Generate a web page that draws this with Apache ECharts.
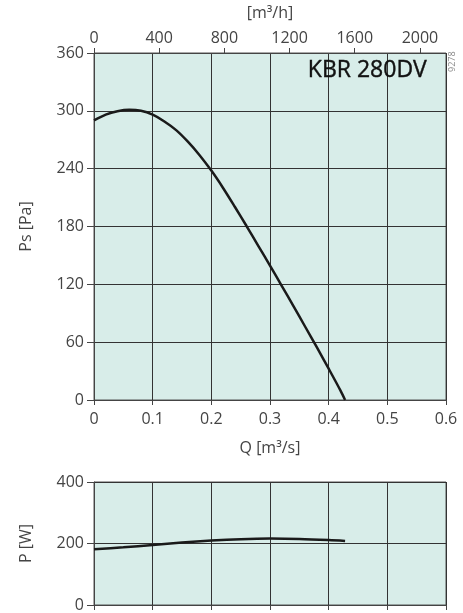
<!DOCTYPE html>
<html>
<head>
<meta charset="utf-8">
<script src="https://cdn.jsdelivr.net/npm/echarts@6/dist/echarts.min.js"></script>
<style>
  html, body { margin: 0; padding: 0; background: #fff; }
  #chart { width: 463px; height: 613px; }
</style>
</head>
<body>
<div id="chart"></div>
<script>
// Fan curve: static pressure and power input versus airflow
var flowQ = [0, 0.02, 0.04, 0.06, 0.08, 0.10, 0.12, 0.14, 0.16, 0.18, 0.20, 0.22, 0.24, 0.26, 0.28, 0.30, 0.32, 0.34, 0.36, 0.38, 0.40, 0.42, 0.428];
var pressurePs = [290, 296, 299.5, 301, 300, 296, 289, 280, 268, 254, 238, 220, 200.5, 180.5, 160, 139.5, 118.5, 97.5, 76, 54.5, 32.5, 10, 0];

var powerQ = [0, 0.05, 0.10, 0.15, 0.20, 0.25, 0.30, 0.35, 0.40, 0.428];
var powerP = [181, 187.5, 195, 203, 209.5, 214, 216, 215, 211.5, 208.5];

var flowHourTicks = [0, 400, 800, 1200, 1600, 2000];
var modelName = 'KBR 280DV';
var drawingNo = '9278';

function pairs(xs, ys) {
  return xs.map(function (x, i) { return [x, ys[i]]; });
}

var fontFam = '"Open Sans", "Noto Sans", sans-serif';
var textCol = '#444';
var gridCol = '#333';
var bg = '#d8ede9';

var chart = echarts.init(document.getElementById('chart'), null, { renderer: 'canvas' });

var labelStyle = { color: textCol, fontFamily: fontFam, fontSize: 16 };

chart.setOption({
  animation: false,
  grid: [
    { left: 94, top: 48, width: 352, height: 352, show: true, backgroundColor: bg, borderColor: '#555', borderWidth: 1 },
    { left: 94, top: 482, width: 352, height: 124, show: true, backgroundColor: bg, borderColor: '#555', borderWidth: 1 }
  ],
  xAxis: [
    {
      gridIndex: 0, type: 'value', min: 0, max: 0.6, interval: 0.1, position: 'bottom',
      name: 'Q [m³/s]', nameLocation: 'middle', nameGap: 40,
      nameTextStyle: labelStyle,
      axisLine: { show: true, lineStyle: { color: '#444', width: 1 } },
      axisTick: { show: true, length: 5, lineStyle: { color: '#444' } },
      axisLabel: Object.assign({ margin: 11, formatter: function (v) { return String(+v.toFixed(1)); } }, labelStyle),
      splitLine: { show: true, lineStyle: { color: gridCol, width: 1 } }
    },
    {
      gridIndex: 0, type: 'value', min: 0, max: 2160, position: 'top',
      name: '[m³/h]', nameLocation: 'middle', nameGap: 32,
      nameTextStyle: labelStyle,
      axisLine: { show: true, lineStyle: { color: '#444', width: 1 } },
      axisTick: { show: true, length: 5, customValues: flowHourTicks, lineStyle: { color: '#444' } },
      axisLabel: Object.assign({ margin: 7, customValues: flowHourTicks, formatter: function (v) { return String(v); } }, labelStyle),
      splitLine: { show: false }
    },
    {
      gridIndex: 1, type: 'value', min: 0, max: 0.6, interval: 0.1, position: 'bottom',
      axisLine: { show: true, lineStyle: { color: '#444', width: 1 } },
      axisTick: { show: true, length: 5, lineStyle: { color: '#444' } },
      axisLabel: { show: false },
      splitLine: { show: true, lineStyle: { color: gridCol, width: 1 } }
    }
  ],
  yAxis: [
    {
      gridIndex: 0, type: 'value', min: 0, max: 360, interval: 60,
      name: 'Ps [Pa]', nameLocation: 'middle', nameGap: 60, nameRotate: 90,
      nameTextStyle: labelStyle,
      axisLine: { show: true, lineStyle: { color: '#444', width: 1 } },
      axisTick: { show: true, length: 7, lineStyle: { color: '#444' } },
      axisLabel: Object.assign({ margin: 10 }, labelStyle),
      splitLine: { show: true, lineStyle: { color: gridCol, width: 1 } }
    },
    {
      gridIndex: 1, type: 'value', min: 0, max: 400, interval: 200,
      name: 'P [W]', nameLocation: 'middle', nameGap: 60, nameRotate: 90,
      nameTextStyle: labelStyle,
      axisLine: { show: true, lineStyle: { color: '#444', width: 1 } },
      axisTick: { show: true, length: 7, lineStyle: { color: '#444' } },
      axisLabel: Object.assign({ margin: 10 }, labelStyle),
      splitLine: { show: true, lineStyle: { color: gridCol, width: 1 } }
    }
  ],
  series: [
    {
      type: 'line', xAxisIndex: 0, yAxisIndex: 0, data: pairs(flowQ, pressurePs),
      smooth: 0.3, showSymbol: false, lineStyle: { color: '#1a1a1a', width: 2.5 }, z: 5
    },
    {
      type: 'line', xAxisIndex: 2, yAxisIndex: 1, data: pairs(powerQ, powerP),
      smooth: 0.3, showSymbol: false, lineStyle: { color: '#1a1a1a', width: 2.5 }, z: 5
    }
  ],
  graphic: [
    {
      type: 'text', right: 463 - 427, top: 59, z: 10,
      style: { text: modelName, fill: '#111', font: '23px ' + fontFam, textAlign: 'right', stroke: '#111', lineWidth: 0.4 }
    },
    {
      type: 'text', x: 448, y: 72, rotation: Math.PI / 2, z: 10,
      style: { text: drawingNo, fill: '#888', font: '9px ' + fontFam }
    }
  ]
});
</script>
</body>
</html>
